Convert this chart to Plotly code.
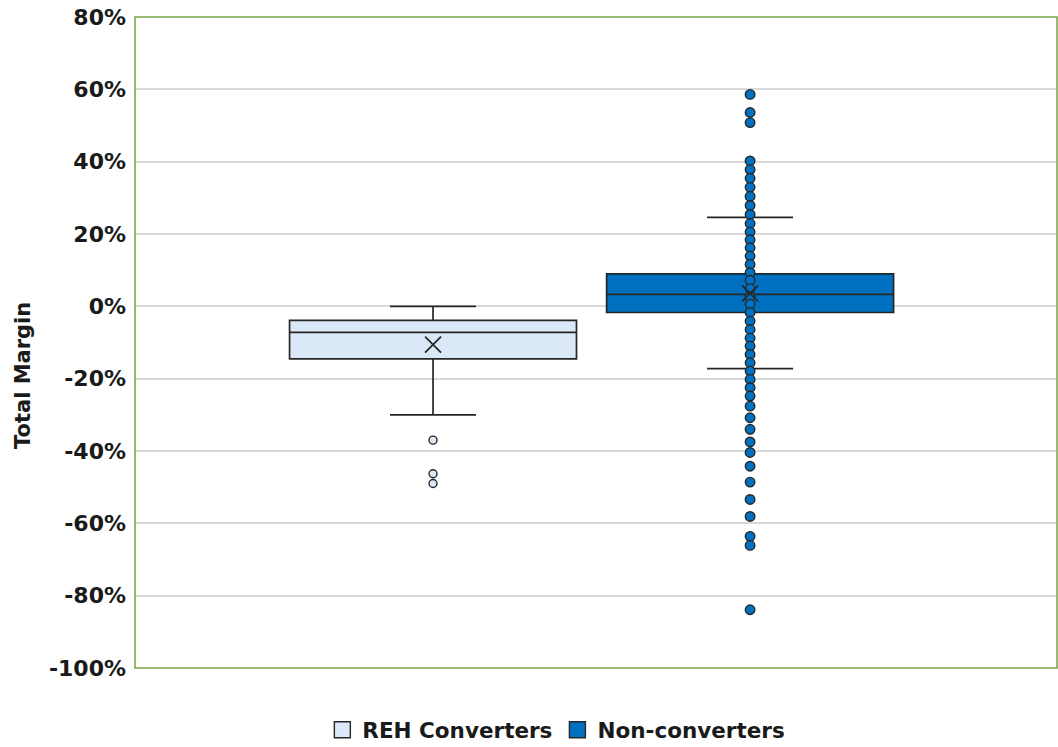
import plotly.graph_objects as go

# ---- data (values in %) ----
series_names = ["REH Converters", "Non-converters"]
series_pos = [0, 1]

reh_q1 = -14.5
reh_median = -7.2
reh_q3 = -3.9
reh_lower = -30.0
reh_upper = 0.0
reh_mean = -10.6
reh_points = [-37.0, -46.3, -49.0]

non_q1 = -1.7
non_median = 3.3
non_q3 = 9.0
non_lower = -17.2
non_upper = 24.6
non_mean = 3.6
non_points = [58.6, 53.6, 50.8, 40.2, 37.8, 35.4, 32.9, 30.4, 27.9, 25.4, 22.9,
              20.6, 18.4, 16.2, 13.9, 11.6, 9.3, 7.2, 4.9, 2.6, 0.6, -1.7, -4.1,
              -6.4, -8.8, -11.0, -13.3, -15.6, -17.9, -20.2, -22.5, -24.8, -27.6,
              -30.8, -34.0, -37.5, -40.4, -44.2, -48.6, -53.4, -58.1, -63.6,
              -66.1, -83.9]

y_ticks = [80, 60, 40, 20, 0, -20, -40, -60, -80, -100]
y_tick_labels = [f"{v}%" for v in y_ticks]

colors = ["#DAE8F7", "#0070C0"]
edge = "#262626"
FONT = "DejaVu Sans"

fig = go.Figure()

stats = [
    (reh_q1, reh_median, reh_q3, reh_lower, reh_upper, reh_mean, reh_points),
    (non_q1, non_median, non_q3, non_lower, non_upper, non_mean, non_points),
]

for i, (q1, med, q3, lo, hi, mean, pts) in enumerate(stats):
    fig.add_trace(go.Box(
        x=[series_pos[i]], q1=[q1], median=[med], q3=[q3],
        lowerfence=[lo], upperfence=[hi],
        width=0.905, whiskerwidth=0.3, boxpoints=False,
        fillcolor=colors[i], line=dict(color=edge, width=1.7),
        showlegend=False, hoverinfo="skip",
    ))
    fig.add_trace(go.Scatter(
        x=[series_pos[i]] * len(pts), y=pts, mode="markers",
        marker=dict(color=colors[i], size=8 if i == 0 else 9.5,
                    line=dict(color=edge, width=1.4)),
        showlegend=False, hoverinfo="skip",
    ))
    fig.add_trace(go.Scatter(
        x=[series_pos[i]], y=[mean], mode="markers",
        marker=dict(symbol="x-thin", size=16, color=edge,
                    line=dict(color=edge, width=1.7)),
        showlegend=False, hoverinfo="skip",
    ))

# legend entries
for i, name in enumerate(series_names):
    fig.add_trace(go.Scatter(
        x=[None], y=[None], mode="markers", name=name,
        marker=dict(symbol="square", size=17, color=colors[i],
                    line=dict(color=edge, width=1.4)),
    ))

fig.update_layout(
    width=1058, height=747,
    margin=dict(l=135, r=1, t=17, b=79, autoexpand=False),
    paper_bgcolor="white", plot_bgcolor="white",
    font=dict(family=FONT, color="#1a1a1a"),
    showlegend=True,
    legend=dict(orientation="h", x=0.457, xanchor="center", y=-0.095,
                yanchor="middle", font=dict(size=21.5, family=FONT, color="#1a1a1a",
                                             weight="bold"),
                itemsizing="trace", itemwidth=30, traceorder="normal"),
    xaxis=dict(range=[-0.94, 1.968], showticklabels=False, showgrid=False,
               zeroline=False, ticks="", showline=False, automargin=False),
    yaxis=dict(range=[-100, 80], tickvals=y_ticks, ticktext=y_tick_labels,
               showgrid=True, gridcolor="#D9D9D9", gridwidth=1.6,
               zeroline=False, ticks="", ticklabelstandoff=8, automargin=False,
               tickfont=dict(size=22, family=FONT, color="#1a1a1a", weight="bold"),
               showline=False),
    shapes=[dict(type="rect", xref="paper", yref="paper", x0=0, x1=1, y0=0, y1=1,
                 line=dict(color="#77A547", width=1.5), layer="above")],
    annotations=[dict(text="Total Margin", xref="paper", yref="paper",
                      x=-0.1215, y=0.45, xanchor="center", yanchor="middle",
                      textangle=-90, showarrow=False,
                      font=dict(size=21, family=FONT, color="#1a1a1a", weight="bold"))],
)

fig.write_html(
    "out.html",
    config={"responsive": False, "displayModeBar": False},
    post_script="document.body.style.margin='0px';document.body.style.overflow='hidden';",
)
